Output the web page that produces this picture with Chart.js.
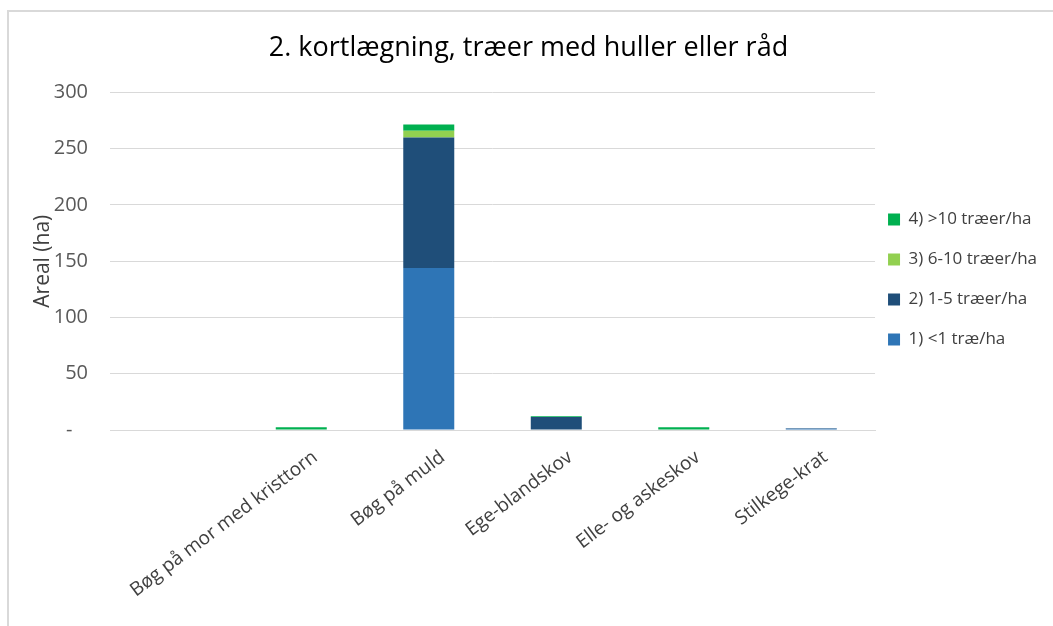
<!DOCTYPE html>
<html>
<head>
<meta charset="utf-8">
<script src="https://cdn.jsdelivr.net/npm/chart.js@4.4.1/dist/chart.umd.min.js"></script>
<style>
  html, body { margin: 0; padding: 0; background: #fff; overflow: hidden; }
  #wrap { position: relative; width: 1053px; height: 626px; }
  #frame { position: absolute; left: 7px; top: 10px; width: 1100px; height: 700px;
           border: 2px solid #d9d9d9; box-sizing: border-box; pointer-events: none; }
  canvas { position: absolute; left: 0; top: 0; }
</style>
</head>
<body>
<div id="wrap">
  <canvas id="chart" width="1053" height="626"></canvas>
  <div id="frame"></div>
</div>
<script>
// categories (first slot is empty in the original)
const categories = ['', 'Bøg på mor med kristtorn', 'Bøg på muld', 'Ege-blandskov', 'Elle- og askeskov', 'Stilkege-krat'];

// series values, ha
const under1 = [0, 0, 144, 0, 0, 1.0];
const from1to5 = [0, 0, 116, 11.5, 0, 0.6];
const from6to10 = [0, 0, 6, 0, 0, 0];
const over10 = [0, 2.5, 5.5, 0.7, 2.5, 0];

const seriesNames = ['1) <1 træ/ha', '2) 1-5 træer/ha', '3) 6-10 træer/ha', '4) >10 træer/ha'];
const seriesColors = ['#2e75b6', '#1f4e79', '#92d050', '#00b050'];

const yTicks = [0, 50, 100, 150, 200, 250, 300];

const FONT = "'Open Sans', sans-serif";
Chart.defaults.font.family = FONT;
Chart.defaults.color = '#595959';

// pull the legend a little closer to the plot, like the original
const legendNudge = {
  id: 'legendNudge',
  afterLayout(chart) {
    chart.legend.left -= 10;
    chart.legend.right -= 10;
  }
};

new Chart(document.getElementById('chart'), {
  type: 'bar',
  data: {
    labels: categories,
    datasets: [under1, from1to5, from6to10, over10].map((d, i) => ({
      label: seriesNames[i],
      data: d,
      backgroundColor: seriesColors[i],
      borderWidth: 0,
      categoryPercentage: 1,
      barPercentage: 0.4
    }))
  },
  options: {
    responsive: false,
    animation: false,
    layout: { padding: { top: 32, right: -4, left: 0, bottom: 0 } },
    plugins: {
      title: {
        display: true,
        text: '2. kortlægning, træer med huller eller råd',
        color: '#000',
        font: { size: 27, weight: 'normal', family: FONT },
        padding: { top: 0, bottom: 28 }
      },
      legend: {
        position: 'right',
        align: 'start',
        reverse: true,
        title: { display: true, text: '', font: { size: 10 }, padding: { top: 144, bottom: 0 } },
        labels: {
          boxWidth: 12,
          boxHeight: 12,
          padding: 23,
          color: '#404040',
          font: { size: 17 }
        }
      },
      tooltip: { enabled: false }
    },
    scales: {
      x: {
        stacked: true,
        afterFit: s => { s.height = 196; },
        grid: { display: false },
        border: { color: '#d9d9d9' },
        ticks: {
          color: '#404040',
          font: { size: 19 },
          maxRotation: 37,
          minRotation: 37,
          padding: 8,
          labelOffset: 14,
          autoSkip: false
        }
      },
      y: {
        stacked: true,
        min: 0,
        max: 300,
        afterFit: s => { s.width = 110; },
        afterBuildTicks: s => { s.ticks = yTicks.map(v => ({ value: v })); },
        grid: { color: '#d9d9d9', drawTicks: false },
        border: { display: false },
        title: {
          display: true,
          text: 'Areal (ha)',
          color: '#404040',
          font: { size: 21 },
          padding: { top: 30, bottom: 0 }
        },
        ticks: {
          color: '#595959',
          font: { size: 20 },
          padding: 22,
          // accounting-style zero: a dash with some room after it
          callback: v => v === 0 ? '-\u00a0\u00a0\u00a0' : v
        }
      }
    }
  },
  plugins: [legendNudge]
});
</script>
</body>
</html>
